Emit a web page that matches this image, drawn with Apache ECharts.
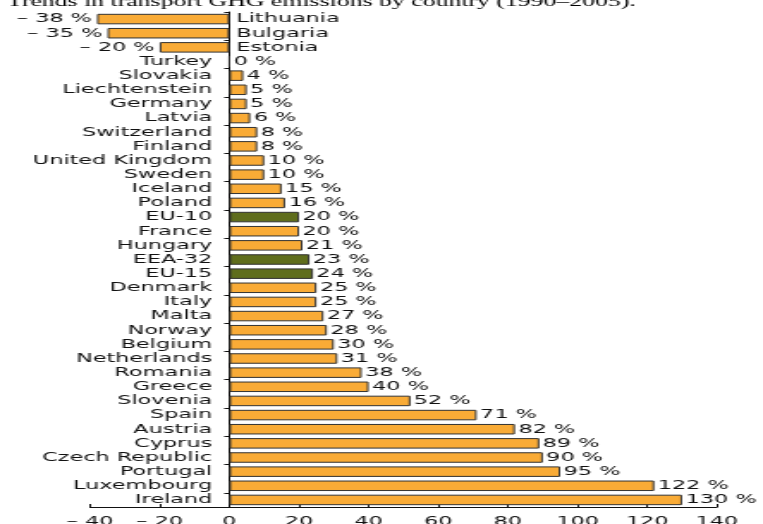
<!DOCTYPE html>
<html>
<head>
<meta charset="utf-8">
<script src="https://cdn.jsdelivr.net/npm/echarts@6/dist/echarts.min.js"></script>
<style>
  html, body { margin: 0; padding: 0; background: #fff; overflow: hidden; }
  /* the reference picture is stretched sideways, so the chart is drawn narrow and scaled */
  #main { width: 444px; height: 524px; transform: scaleX(1.7185); transform-origin: 0 0; }
</style>
</head>
<body>
<div id="main"></div>
<script>
var countries = ['Lithuania', 'Bulgaria', 'Estonia', 'Turkey', 'Slovakia', 'Liechtenstein', 'Germany',
    'Latvia', 'Switzerland', 'Finland', 'United Kingdom', 'Sweden', 'Iceland', 'Poland', 'EU-10',
    'France', 'Hungary', 'EEA-32', 'EU-15', 'Denmark', 'Italy', 'Malta', 'Norway', 'Belgium',
    'Netherlands', 'Romania', 'Greece', 'Slovenia', 'Spain', 'Austria', 'Cyprus', 'Czech Republic',
    'Portugal', 'Luxembourg', 'Ireland'];
var changes = [-38, -35, -20, 0, 4, 5, 5, 6, 8, 8, 10, 10, 15, 16, 20, 20, 21, 23, 24, 25, 25, 27,
    28, 30, 31, 38, 40, 52, 71, 82, 89, 90, 95, 122, 130];
var aggregates = ['EU-10', 'EEA-32', 'EU-15'];
var xTicks = [-40, -20, 0, 20, 40, 60, 80, 100, 120, 140];

var orange = '#f9ab36';
var green = '#5f6d1c';
var font = 'DejaVu Sans';

function pct(v) {
    return (v < 0 ? '\u2013 ' + Math.abs(v) : v) + ' %';
}

var chartDom = document.getElementById('main');
var myChart = echarts.init(chartDom, null, { renderer: 'canvas' });
var option;

option = {
    animation: false,
    title: {
        text: 'Trends in transport GHG emissions by country (1990\u20132005).',
        left: -1,
        top: -10,
        textStyle: {
            fontFamily: 'Liberation Serif',
            fontSize: 15,
            fontWeight: 'normal',
            color: '#000'
        }
    },
    grid: {
        left: 52.4,
        right: 26.8,
        top: 12,
        bottom: 17,
        outerBoundsMode: 'none'
    },
    xAxis: {
        type: 'value',
        min: xTicks[0],
        max: xTicks[xTicks.length - 1],
        interval: 20,
        axisLine: { show: true, onZero: false, lineStyle: { color: '#111', width: 1 } },
        axisTick: { show: true, inside: true, length: 3, lineStyle: { color: '#111' } },
        splitLine: { show: false },
        axisLabel: {
            margin: 8,
            fontFamily: font,
            fontSize: 13,
            color: '#111',
            formatter: function (v) {
                return v < 0 ? '\u2013 ' + Math.abs(v) : String(v);
            }
        }
    },
    yAxis: {
        type: 'category',
        inverse: true,
        data: countries,
        axisLine: { show: true, onZero: true, lineStyle: { color: '#111', width: 1 } },
        axisTick: { show: true, length: 3, lineStyle: { color: '#111' } },
        axisLabel: { show: false }
    },
    series: [
        {
            name: 'change',
            type: 'bar',
            barWidth: 10.5,
            data: changes.map(function (v, i) {
                return {
                    value: v,
                    itemStyle: { color: aggregates.indexOf(countries[i]) >= 0 ? green : orange },
                    label: { position: v < 0 ? 'left' : 'right', distance: v < 0 ? 3 : 2 }
                };
            }),
            itemStyle: { borderColor: '#333', borderWidth: 1 },
            label: {
                show: true,
                fontFamily: font,
                fontSize: 13,
                color: '#111',
                formatter: function (p) { return pct(p.value); }
            }
        },
        {
            name: 'names',
            type: 'bar',
            barWidth: 10.5,
            barGap: '-100%',
            silent: true,
            data: changes.map(function (v) {
                return {
                    value: v,
                    label: { position: v < 0 ? 'right' : 'left', distance: v < 0 ? 4 : 10 }
                };
            }),
            itemStyle: { color: 'rgba(0,0,0,0)', borderWidth: 0 },
            label: {
                show: true,
                fontFamily: font,
                fontSize: 13,
                color: '#111',
                formatter: '{b}'
            },
            z: 3
        }
    ]
};

option && myChart.setOption(option);
</script>
</body>
</html>
